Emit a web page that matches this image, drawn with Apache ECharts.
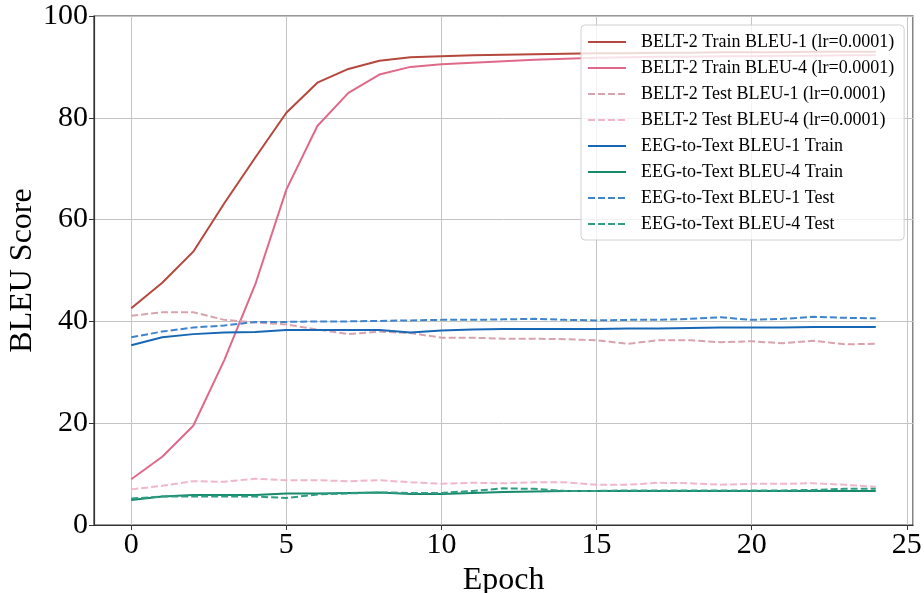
<!DOCTYPE html>
<html>
<head>
<meta charset="utf-8">
<script src="https://cdn.jsdelivr.net/npm/echarts@6/dist/echarts.min.js"></script>
<style>
  html, body { margin: 0; padding: 0; background: #fff; }
  #chart { width: 924px; height: 593px; }
</style>
</head>
<body>
<div id="chart"></div>
<script>
// epochs 0..24
const epochs = [0, 1, 2, 3, 4, 5, 6, 7, 8, 9, 10, 11, 12, 13, 14, 15, 16, 17, 18, 19, 20, 21, 22, 23, 24];

// BELT-2 (lr=0.0001)
const beltTrainB1 = [42.6, 47.6, 53.7, 63.2, 72.2, 81.0, 86.9, 89.6, 91.2, 91.9, 92.1, 92.3, 92.4, 92.5, 92.6, 92.7, 92.7, 92.8, 92.8, 92.9, 92.9, 92.9, 93.0, 93.0, 93.0];
const beltTrainB4 = [9.0, 13.4, 19.5, 32.4, 47.3, 65.9, 78.4, 84.9, 88.5, 90.0, 90.5, 90.8, 91.1, 91.4, 91.6, 91.8, 91.9, 92.0, 92.0, 92.1, 92.1, 92.2, 92.2, 92.3, 92.3];
const beltTestB1 = [41.1, 41.8, 41.8, 40.3, 39.8, 39.4, 38.4, 37.5, 38.0, 37.7, 36.8, 36.8, 36.6, 36.6, 36.5, 36.3, 35.6, 36.3, 36.3, 35.9, 36.1, 35.7, 36.2, 35.5, 35.6];
const beltTestB4 = [7.0, 7.7, 8.6, 8.5, 9.1, 8.8, 8.8, 8.6, 8.8, 8.4, 8.1, 8.3, 8.2, 8.4, 8.4, 7.9, 7.9, 8.3, 8.2, 7.9, 8.1, 8.1, 8.2, 7.9, 7.5];

// EEG-to-Text
const eegTrainB1 = [35.3, 36.9, 37.5, 37.8, 37.9, 38.3, 38.3, 38.3, 38.3, 37.8, 38.2, 38.4, 38.5, 38.5, 38.5, 38.5, 38.6, 38.6, 38.7, 38.8, 38.8, 38.8, 38.9, 38.9, 38.9];
const eegTrainB4 = [4.9, 5.6, 5.9, 5.9, 5.9, 6.2, 6.2, 6.3, 6.4, 6.1, 6.1, 6.3, 6.5, 6.6, 6.7, 6.7, 6.7, 6.7, 6.7, 6.7, 6.7, 6.7, 6.7, 6.7, 6.7];
const eegTestB1 = [36.9, 38.0, 38.8, 39.2, 39.9, 39.9, 40.0, 40.0, 40.1, 40.2, 40.3, 40.3, 40.4, 40.5, 40.3, 40.2, 40.3, 40.3, 40.5, 40.8, 40.3, 40.5, 40.9, 40.7, 40.6];
const eegTestB4 = [5.2, 5.6, 5.6, 5.6, 5.6, 5.3, 6.0, 6.2, 6.4, 6.3, 6.3, 6.7, 7.2, 7.1, 6.7, 6.7, 6.8, 6.8, 6.8, 6.8, 6.8, 6.8, 6.9, 7.1, 7.1];

const yTicks = [0, 20, 40, 60, 80, 100];

const FONT = '"Liberation Serif", "Times New Roman", serif';

function pairs(ys) {
  return epochs.map((e, i) => [e, ys[i]]);
}

function line(name, ys, color, dashed) {
  return {
    name: name,
    type: 'line',
    data: pairs(ys),
    symbol: 'none',
    smooth: false,
    lineStyle: { color: color, width: 2, type: dashed ? [7, 3] : 'solid' },
    itemStyle: { color: color },
    emphasis: { disabled: true },
    animation: false
  };
}

const chart = echarts.init(document.getElementById('chart'), null, { renderer: 'canvas' });

chart.setOption({
  animation: false,
  backgroundColor: '#fff',
  grid: {
    left: 94, right: 11, top: 16, bottom: 68,
    outerBoundsMode: 'none',
    containLabel: false,
    show: true, borderColor: '#333', borderWidth: 1.2, backgroundColor: 'transparent'
  },
  xAxis: {
    type: 'value',
    min: -1.2, max: 25.2,
    splitNumber: 5,
    name: 'Epoch',
    nameLocation: 'middle',
    nameGap: 36,
    nameTextStyle: { fontFamily: FONT, fontSize: 32, color: '#000' },
    axisLine: { show: true, onZero: false, lineStyle: { color: '#333', width: 1.2 } },
    axisTick: { show: true, length: 5, lineStyle: { color: '#333' } },
    axisLabel: {
      fontFamily: FONT, fontSize: 30, color: '#000', margin: 5,
      showMinLabel: false, showMaxLabel: false,
      formatter: v => (Math.abs(v % 5) < 1e-9 ? String(v) : '')
    },
    splitLine: { show: true, lineStyle: { color: '#c4c4c4', width: 1 } }
  },
  yAxis: {
    type: 'value',
    min: yTicks[0], max: yTicks[yTicks.length - 1],
    interval: 20,
    name: 'BLEU Score',
    nameLocation: 'middle',
    nameGap: 55,
    nameMoveOverlap: false,
    nameRotate: 90,
    nameTextStyle: { fontFamily: FONT, fontSize: 32, color: '#000' },
    axisLine: { show: true, onZero: false, lineStyle: { color: '#333', width: 1.2 } },
    axisTick: { show: true, length: 5, lineStyle: { color: '#333' } },
    axisLabel: { fontFamily: FONT, fontSize: 30, color: '#000', margin: 6 },
    splitLine: { show: true, lineStyle: { color: '#c4c4c4', width: 1 } }
  },
  legend: {
    orient: 'vertical',
    left: 581,
    top: 25,
    padding: [8, 10, 7, 6],
    itemWidth: 38,
    itemHeight: 14,
    itemGap: 8,
    itemStyle: { opacity: 0 },
    backgroundColor: 'rgba(255,255,255,0.8)',
    borderColor: '#d0d0d0',
    borderWidth: 1,
    borderRadius: 4,
    textStyle: { fontFamily: FONT, fontSize: 18, lineHeight: 18, color: '#000', padding: [0, 0, 0, 10] },
    data: [
      'BELT-2 Train BLEU-1 (lr=0.0001)',
      'BELT-2 Train BLEU-4 (lr=0.0001)',
      'BELT-2 Test BLEU-1 (lr=0.0001)',
      'BELT-2 Test BLEU-4 (lr=0.0001)',
      'EEG-to-Text BLEU-1 Train',
      'EEG-to-Text BLEU-4 Train',
      'EEG-to-Text BLEU-1 Test',
      'EEG-to-Text BLEU-4 Test'
    ]
  },
  series: [
    line('BELT-2 Train BLEU-1 (lr=0.0001)', beltTrainB1, '#b5473d', false),
    line('BELT-2 Train BLEU-4 (lr=0.0001)', beltTrainB4, '#e0698a', false),
    line('BELT-2 Test BLEU-1 (lr=0.0001)', beltTestB1, '#d9a3ae', true),
    line('BELT-2 Test BLEU-4 (lr=0.0001)', beltTestB4, '#f0b7c8', true),
    line('EEG-to-Text BLEU-1 Train', eegTrainB1, '#1767b5', false),
    line('EEG-to-Text BLEU-4 Train', eegTrainB4, '#178a6c', false),
    line('EEG-to-Text BLEU-1 Test', eegTestB1, '#3f83cc', true),
    line('EEG-to-Text BLEU-4 Test', eegTestB4, '#2f9e82', true)
  ]
});
</script>
</body>
</html>
